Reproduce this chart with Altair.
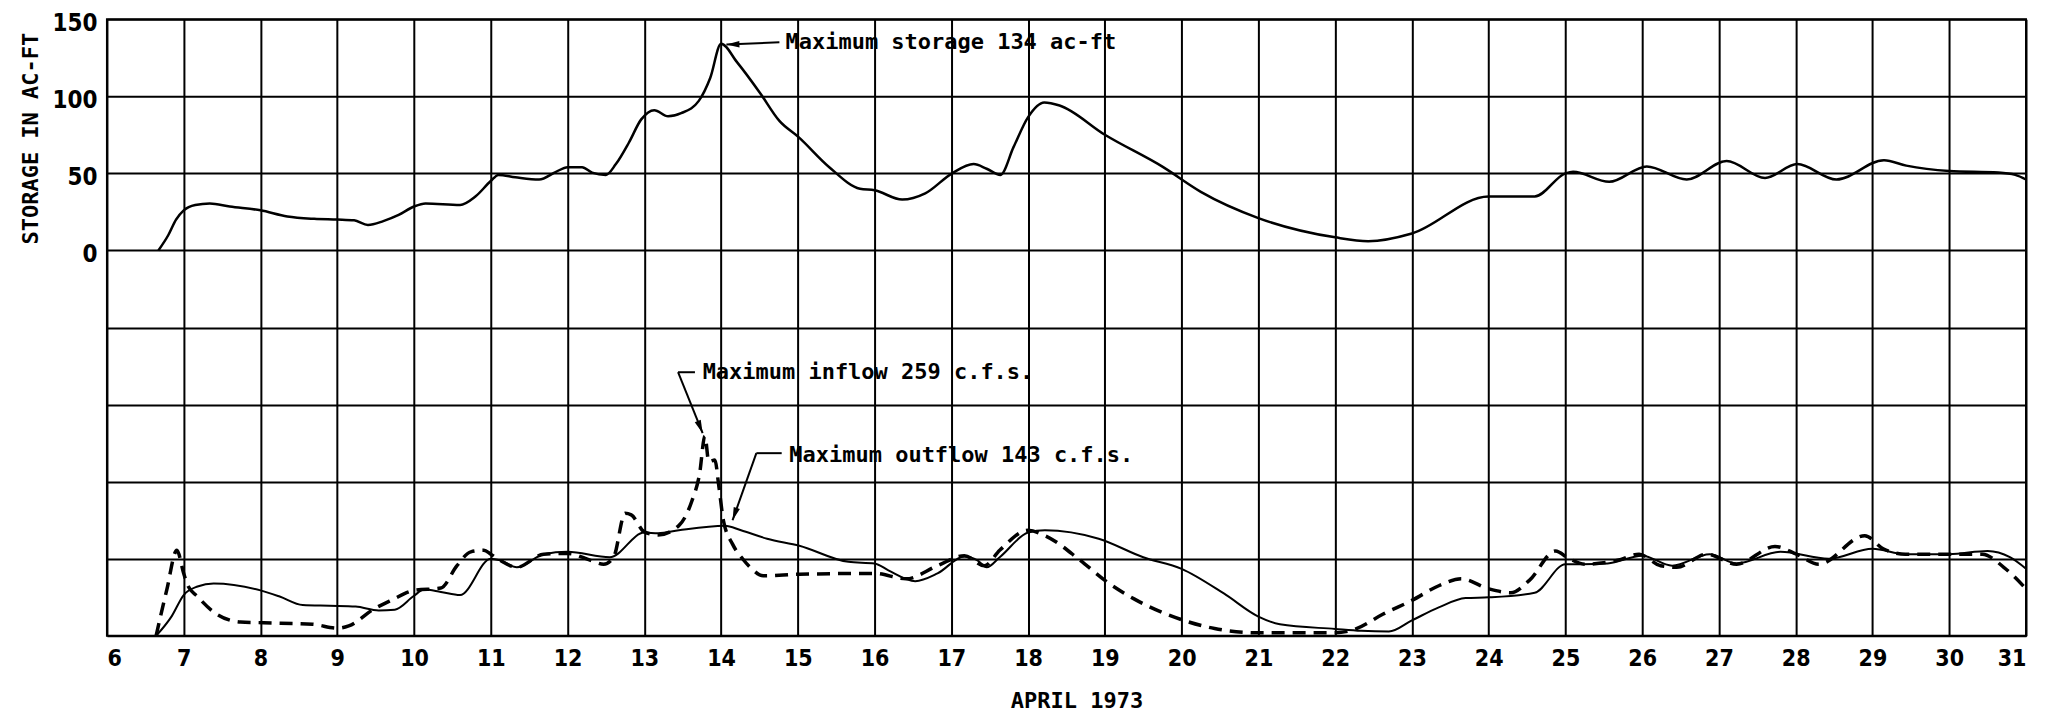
import altair as alt
import pandas as pd

# ---------------- data ----------------
storage_day = [6.67, 6.8, 6.9, 7.0, 7.15, 7.34, 7.6, 8.0, 8.35, 8.7, 9.0, 9.22, 9.4, 9.6, 9.8,
               10.0, 10.15, 10.6, 10.8, 11.0, 11.1, 11.32, 11.63, 11.85, 12.0, 12.19, 12.32, 12.5,
               12.63, 12.8, 12.96, 13.13, 13.31, 13.48, 13.71, 13.86, 14.0, 14.21, 14.51, 14.76,
               15.01, 15.41, 15.81, 16.0, 16.36, 16.66, 17.01, 17.29, 17.46, 17.64, 17.81, 18.0,
               18.21, 18.41, 19.0, 19.76, 20.25, 21.0, 22.0, 22.43, 23.0, 24.0, 24.6, 25.0, 25.1,
               25.57, 26.06, 26.58, 27.1, 27.6, 28.02, 28.53, 29.15, 29.44, 30.0, 30.64, 30.86, 31.0]
storage_af = [0, 10, 20, 26, 29.5, 30.5, 28.5, 26, 22, 20.5, 20, 19.5, 16.5, 19, 23,
              28.5, 30.5, 29.5, 35, 45, 49, 47.5, 46, 51, 54, 54, 50.5, 49,
              56, 70, 85, 91, 87, 89, 97, 112, 134, 122, 102, 84,
              73.5, 54, 40, 39, 33, 37, 50, 56, 53, 49, 67, 86.5,
              96, 94, 75, 54, 38, 21, 8.5, 6, 11, 35, 35, 50, 51,
              44.5, 54.5, 46, 58, 47, 56, 46, 58.5, 55, 51.5, 50.5, 49, 46]

inflow_day = [6.64, 6.78, 6.91, 7.0, 7.05, 7.18, 7.39, 7.74, 8.04, 8.68, 9.0, 9.15, 9.48, 9.7,
              10.0, 10.35, 10.56, 10.74, 10.91, 11.0, 11.12, 11.34, 11.69, 12.0, 12.3, 12.47,
              12.6, 12.75, 12.83, 13.0, 13.18, 13.45, 13.62, 13.72, 13.79, 13.84, 13.92, 13.97,
              14.03, 14.15, 14.28, 14.38, 14.55, 15.02, 16.0, 16.41, 16.82, 17.17, 17.43, 17.63,
              18.0, 18.22, 18.68, 19.0, 19.38, 20.0, 20.43, 21.0, 22.0, 22.27, 22.62, 23.0,
              23.35, 23.64, 24.0, 24.29, 24.53, 24.87, 25.05, 25.26, 25.68, 25.96, 26.24, 26.45,
              26.84, 27.23, 27.73, 28.01, 28.3, 28.9, 29.14, 29.43, 30.43, 30.71, 31.0]
inflow_cfs = [0, 60, 111, 81, 66, 51, 31, 18, 17, 15, 10, 13, 35, 46,
              59, 62, 91, 109, 111, 106, 98, 89, 106, 107, 98, 93,
              102, 159, 157, 135, 131, 143, 175, 210, 259, 226, 228, 195,
              150, 119, 100, 89, 78, 80, 81, 74, 91, 104, 91, 111,
              137, 130, 98, 72, 48, 21, 9.5, 4, 4, 9, 28, 46,
              65, 74, 61, 56, 72, 110, 100, 93, 98, 106, 91, 89,
              106, 93, 116, 106, 93, 130, 113, 106, 106, 89, 61]

outflow_day = [6.64, 6.84, 7.0, 7.18, 7.39, 8.0, 8.25, 8.55, 8.9, 9.24, 9.54, 9.75, 10.0, 10.13,
               10.35, 10.6, 11.0, 11.12, 11.34, 11.69, 12.0, 12.55, 13.0, 13.18, 13.45, 14.05,
               14.26, 14.6, 15.02, 15.66, 16.0, 16.18, 16.53, 16.82, 17.17, 17.34, 17.46, 17.63,
               18.0, 18.22, 18.92, 19.5, 20.0, 20.55, 21.0, 21.28, 22.0, 22.34, 22.7, 23.0, 23.35,
               23.7, 24.0, 24.6, 25.0, 25.2, 25.55, 26.0, 26.39, 26.88, 27.23, 27.8, 28.43, 29.0,
               29.43, 30.0, 30.5, 30.79, 31.0]
outflow_cfs = [0, 25, 53, 64, 68, 59, 51, 40, 39, 38, 33, 34, 52, 60,
               57, 53, 100, 98, 89, 106, 109, 102, 134, 133, 137, 143,
               137, 126, 117, 96, 94, 85, 71, 81, 103, 98, 89, 102,
               134, 137, 126, 102, 87, 55, 25, 15, 9, 6.5, 5.6, 20, 37,
               49, 50, 56, 93, 93, 94, 104, 91, 106, 94, 109, 100, 113,
               106, 106, 110, 102, 87]

day_ticks = list(range(6, 32))
storage_grid = [-250, -200, -150, -100, -50, 0, 50, 100, 150]

# annotations
storage_note = "Maximum storage 134 ac-ft"
inflow_note = "Maximum inflow 259 c.f.s."
outflow_note = "Maximum outflow 143 c.f.s."

# ---------------- styling ----------------
LABEL_FONT = "Liberation Sans Narrow, DejaVu Sans Condensed, sans-serif"
TEXT_FONT = "DejaVu Sans Mono, monospace"
ARROW = "M0,0L2.6,-0.65L2.6,0.65Z"

S_DOM = [-250, 150]
F_DOM = [0, 800]

x_axis = alt.Axis(values=day_ticks, format="d", grid=True, gridColor="black", gridWidth=2,
                  gridOpacity=1, domain=False, ticks=False, tickSize=0,
                  labelFont=LABEL_FONT, labelFontSize=23, labelFontWeight="bold",
                  labelColor="black", labelPadding=12,
                  title="APRIL 1973", titleFont=TEXT_FONT, titleFontSize=22,
                  titleFontWeight="bold", titleColor="black", titleX=970, titleY=72,
                  titleAlign="center", titleBaseline="alphabetic")


def X(field="d"):
    return alt.X(f"{field}:Q", scale=alt.Scale(domain=[6, 31], nice=False, zero=False),
                 axis=x_axis)


y_axis = alt.Axis(values=storage_grid, labelExpr="datum.value >= 0 ? datum.label : ''",
                  grid=True, gridColor="black", gridWidth=2, gridOpacity=1,
                  domain=False, ticks=False, tickSize=0,
                  labelFont=LABEL_FONT, labelFontSize=24, labelFontWeight="bold",
                  labelColor="black", labelPadding=10, labelOffset=4,
                  title="STORAGE IN AC-FT", titleFont=TEXT_FONT, titleFontSize=22,
                  titleFontWeight="bold", titleColor="black", titleAngle=270,
                  titleX=-76, titleY=119, titleAlign="center", titleBaseline="middle")


def YS(field="v"):
    return alt.Y(f"{field}:Q", scale=alt.Scale(domain=S_DOM, nice=False, zero=False), axis=y_axis)


def YF(field="v"):
    return alt.Y(f"{field}:Q", scale=alt.Scale(domain=F_DOM, nice=False, zero=False), axis=None)


storage_df = pd.DataFrame({"d": storage_day, "v": storage_af})
inflow_df = pd.DataFrame({"d": inflow_day, "v": inflow_cfs})
outflow_df = pd.DataFrame({"d": outflow_day, "v": outflow_cfs})

# ---- storage layer ----
storage_line = alt.Chart(storage_df).mark_line(color="black", strokeWidth=2.5,
                                               interpolate="monotone").encode(x=X(), y=YS())
s_text = alt.Chart(pd.DataFrame({"d": [14.84], "v": [135.5], "t": [storage_note]})).mark_text(
    align="left", baseline="middle", font=TEXT_FONT, fontSize=22, fontWeight="bold",
    color="black").encode(x=X(), y=YS(), text="t:N")
s_lead = alt.Chart(pd.DataFrame({"d": [14.76], "v": [135], "d2": [14.07], "v2": [133.5]})).mark_rule(
    color="black", strokeWidth=2).encode(x=X(), y=YS(), x2="d2:Q", y2="v2:Q")
s_head = alt.Chart(pd.DataFrame({"d": [14.07], "v": [133.5]})).mark_point(
    shape=ARROW, filled=True, size=100, color="black", opacity=1, angle=358).encode(x=X(), y=YS())

storage_layer = alt.layer(storage_line, s_lead, s_head, s_text)

# ---- flow layer ----
inflow_line = alt.Chart(inflow_df).mark_line(color="black", strokeWidth=3.5, strokeDash=[13, 8],
                                             interpolate="monotone").encode(x=X(), y=YF())
outflow_line = alt.Chart(outflow_df).mark_line(color="black", strokeWidth=2,
                                               interpolate="monotone").encode(x=X(), y=YF())
f_text = alt.Chart(pd.DataFrame({"d": [13.76, 14.89], "v": [342, 234],
                                 "t": [inflow_note, outflow_note]})).mark_text(
    align="left", baseline="middle", font=TEXT_FONT, fontSize=22, fontWeight="bold",
    color="black").encode(x=X(), y=YF(), text="t:N")
f_lead = alt.Chart(pd.DataFrame({
    "d": [13.66, 13.44, 14.79, 14.46],
    "v": [342, 342, 237, 237],
    "d2": [13.44, 13.76, 14.46, 14.15],
    "v2": [342, 263, 237, 150]})).mark_rule(color="black", strokeWidth=2).encode(
    x=X(), y=YF(), x2="d2:Q", y2="v2:Q")
in_head = alt.Chart(pd.DataFrame({"d": [13.76], "v": [263]})).mark_point(
    shape=ARROW, filled=True, size=100, color="black", opacity=1, angle=248).encode(x=X(), y=YF())
out_head = alt.Chart(pd.DataFrame({"d": [14.15], "v": [150]})).mark_point(
    shape=ARROW, filled=True, size=100, color="black", opacity=1, angle=289).encode(x=X(), y=YF())

flow_layer = alt.layer(outflow_line, inflow_line, f_lead, in_head, out_head, f_text)

chart = alt.layer(storage_layer, flow_layer).resolve_scale(y="independent").properties(
    width=1920, height=617,
    autosize=alt.AutoSizeParams(type="none"),
    padding={"left": 99, "top": 11, "right": 20, "bottom": 80},
    background="white",
).configure_view(stroke="black", strokeWidth=2)

chart.save("out.html", embed_options={"renderer": "svg", "actions": False})
